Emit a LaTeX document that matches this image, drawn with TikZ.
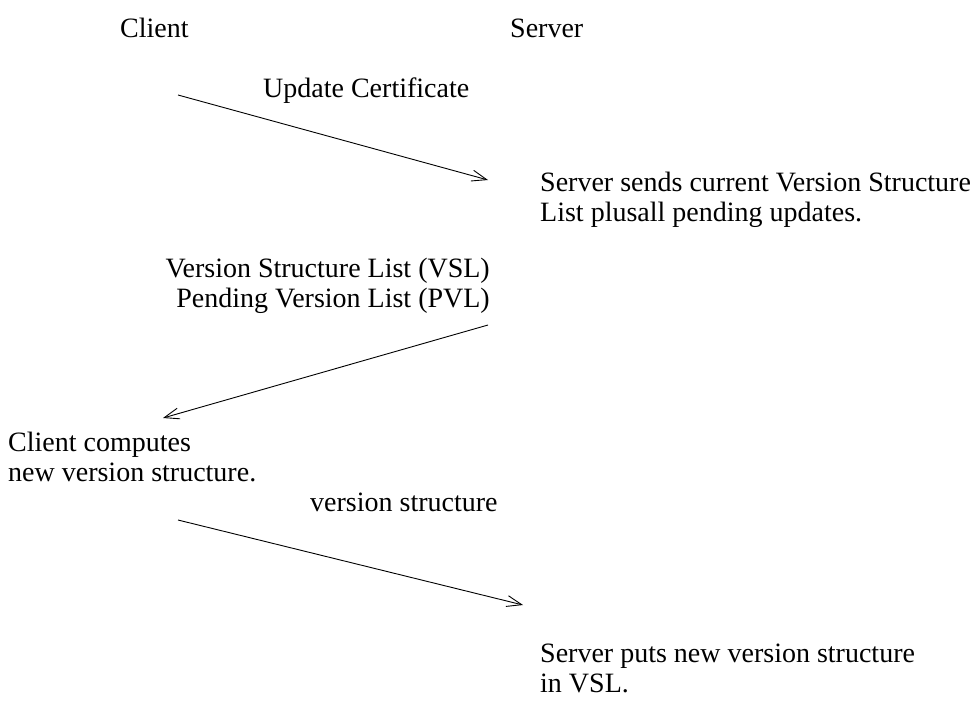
\documentclass[tikz,border=0pt]{standalone}
\usepackage{fontspec}
\setmainfont{Liberation Serif}
\usetikzlibrary{arrows.meta}

\tikzset{
    msg/.style={line width=0.9pt, -{Straight Barb[length=15pt,width=11pt]}},
    lbl/.style={inner sep=0pt, align=left, font=\fontsize{28}{30}\selectfont}
}

\begin{document}
\begin{tikzpicture}[x=1pt, y=-1pt]
    \useasboundingbox (0,0) rectangle (976,712);

    \node[lbl, anchor=base west] (client) at (120,37) {Client};
    \node[lbl, anchor=base west] (server) at (510,37) {Server};

    % request
    \coordinate (c1) at (178,95);
    \coordinate (s1) at (488,180);
    \draw[msg] (c1) -- (s1);
    \node[lbl, anchor=base west] (upd) at (263,97) {Update Certificate};
    \node[lbl, anchor=base west] (sends) at (540,221)
        {Server sends current Version Structure\\List plusall pending updates.};

    % reply
    \coordinate (s2) at (488,325);
    \coordinate (c2) at (163,418);
    \draw[msg] (s2) -- (c2);
    \node[lbl, anchor=base east, align=right] (lists) at (490,307)
        {Version Structure List (VSL)\\Pending Version List (PVL)};
    \node[lbl, anchor=base west] (computes) at (8,481)
        {Client computes\\new version structure.};

    % new structure
    \coordinate (c3) at (178,520);
    \coordinate (s3) at (523,605);
    \draw[msg] (c3) -- (s3);
    \node[lbl, anchor=base west] (vs) at (310,511) {version structure};
    \node[lbl, anchor=base west] (puts) at (540,692)
        {Server puts new version structure\\in VSL.};
\end{tikzpicture}
\end{document}
